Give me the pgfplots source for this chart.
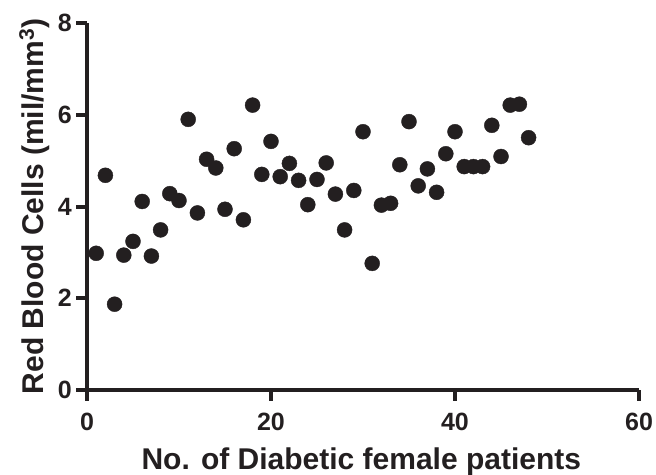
\documentclass[border=0pt]{standalone}
\usepackage{fontspec}
\setmainfont{Liberation Sans}
\usepackage{pgfplots}
\pgfplotsset{compat=1.18}
\definecolor{ink}{HTML}{231F20}
\pgfplotstableread{
x y
1 2.98
2 4.68
3 1.87
4 2.94
5 3.24
6 4.11
7 2.92
8 3.49
9 4.28
10 4.13
11 5.90
12 3.86
13 5.03
14 4.84
15 3.94
16 5.26
17 3.71
18 6.21
19 4.70
20 5.42
21 4.65
22 4.94
23 4.57
24 4.04
25 4.59
26 4.95
27 4.27
28 3.49
29 4.35
30 5.63
31 2.76
32 4.03
33 4.07
34 4.91
35 5.85
36 4.45
37 4.82
38 4.31
39 5.15
40 5.63
41 4.87
42 4.87
43 4.87
44 5.77
45 5.09
46 6.21
47 6.23
48 5.50
}\rbc
\begin{document}
\begin{tikzpicture}
\path[use as bounding box] (-87pt,-84pt) rectangle (569pt,390pt);
\begin{axis}[
  at={(0pt,0pt)}, anchor=south west,
  scale only axis, width=552pt, height=367pt,
  xmin=0, xmax=60, ymin=0, ymax=8,
  axis x line=bottom, axis y line=left,
  x axis line style={line width=4pt, draw=ink, -},
  y axis line style={line width=4pt, draw=ink, -},
  xtick={0,20,40,60}, ytick={0,2,4,6,8},
  xticklabels={0,20,40,60}, yticklabels={0,2,4,6,8},
  minor tick num=0,
  xtick style={line width=4pt, draw=ink},
  ytick style={line width=4pt, draw=ink},
  tick align=outside, major tick length=10.5pt,
  xticklabel style={font=\bfseries\fontsize{25}{25}\selectfont, text=ink, inner sep=0pt, text height=18pt, text depth=0pt, anchor=north, yshift=-12pt},
  yticklabel style={font=\bfseries\fontsize{25}{25}\selectfont, text=ink, inner sep=0pt, anchor=east, xshift=-4.5pt},
  xlabel={No. of Diabetic female patients},
  ylabel={Red Blood Cells (mil/mm\textsuperscript{3})},
  xlabel style={at={(axis description cs:0.497,-0.2153)}, anchor=base, inner sep=0pt, font=\bfseries\fontsize{30}{30}\selectfont, text=ink},
  ylabel style={at={(axis description cs:-0.0797,0.5)}, anchor=base, rotate=0, inner sep=0pt, font=\bfseries\fontsize{30}{30}\selectfont, text=ink},
  clip=false,
]
\addplot[only marks, mark=*, mark size=7.5pt, ink, mark options={fill=ink, draw=none}] table[x=x,y=y]{\rbc};
\draw[ink, line width=4pt] (axis cs:0,0) -- (axis cs:60,0);
\draw[ink, line width=4pt] (axis cs:0,0) -- (axis cs:0,8);
\draw[ink, line width=4pt] (axis cs:0,0) -- ++(0pt,-10.5pt);
\draw[ink, line width=4pt] (axis cs:20,0) -- ++(0pt,-10.5pt);
\draw[ink, line width=4pt] (axis cs:40,0) -- ++(0pt,-10.5pt);
\draw[ink, line width=4pt] (axis cs:60,0) -- ++(0pt,-10.5pt);
\draw[ink, line width=4pt] (axis cs:0,0) -- ++(-10.5pt,0pt);
\draw[ink, line width=4pt] (axis cs:0,2) -- ++(-10.5pt,0pt);
\draw[ink, line width=4pt] (axis cs:0,4) -- ++(-10.5pt,0pt);
\draw[ink, line width=4pt] (axis cs:0,6) -- ++(-10.5pt,0pt);
\draw[ink, line width=4pt] (axis cs:0,8) -- ++(-10.5pt,0pt);
\end{axis}
\end{tikzpicture}
\end{document}
